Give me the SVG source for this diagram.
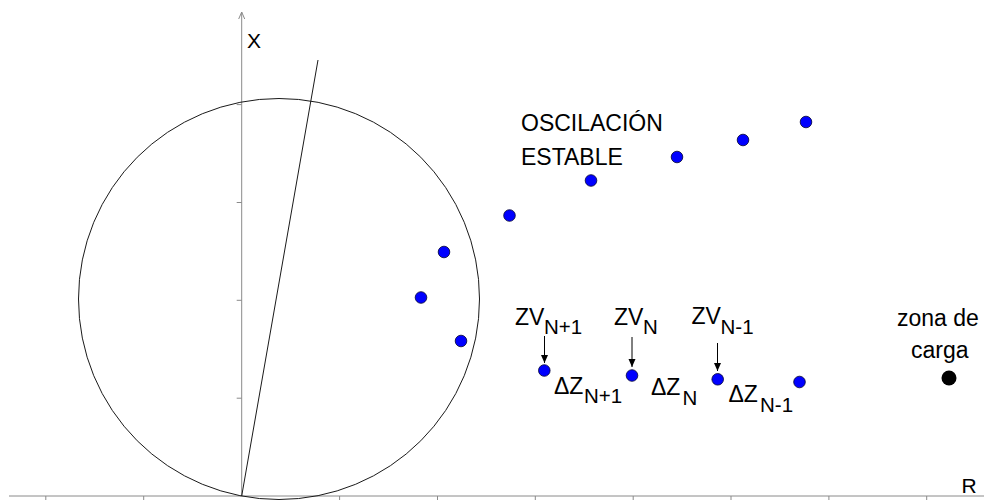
<svg xmlns="http://www.w3.org/2000/svg" width="984" height="501" viewBox="0 0 984 501">
<defs>
<style>
.axis{stroke:#8a8a8a;stroke-width:1;fill:none}
.geo{stroke:#1a1a1a;stroke-width:1;fill:none}
.pt{fill:#0000ff;stroke:#000033;stroke-width:0.8}
.lbl{font-family:"Liberation Sans",Arial,sans-serif;font-size:23px;fill:#000}
.sub{font-size:20.5px}
.conn{stroke:#000;stroke-width:1;fill:none}
</style>
<marker id="ah" viewBox="0 0 8 10" refX="8" refY="5" markerWidth="8" markerHeight="10" markerUnits="userSpaceOnUse" orient="auto">
<path d="M0,1.5 L8,5 L0,8.5 Z" fill="#000"/>
</marker>
</defs>
<rect width="984" height="501" fill="#fff"/>
<g id="axes">
<line class="axis" x1="9" y1="496" x2="984" y2="496"/>
<line class="axis" x1="241.7" y1="496" x2="241.7" y2="12"/>
<path class="axis" d="M238.7,19 L241.7,12 L244.7,19"/>
<path class="axis" d="M45.8,496v4M143.7,496v4M339.6,496v4M437.5,496v4M535.3,496v4M633.2,496v4M731,496v4M828.9,496v4M926.7,496v4"/>
<path class="axis" d="M236.7,398.2h5M236.7,300.3h5M236.7,202.5h5M236.7,104.6h5"/>
<text class="lbl" x="247" y="48" style="font-size:21px">X</text>
<text class="lbl" x="961.5" y="493" style="font-size:21px">R</text>
</g>
<g id="circle">
<circle class="geo" cx="279" cy="299" r="200.5"/>
<line class="geo" x1="241.7" y1="496" x2="318" y2="60"/>
</g>
<g id="oscilacion">
<text class="lbl" x="521" y="131">OSCILACIÓN</text>
<text class="lbl" x="521" y="165">ESTABLE</text>
<circle class="pt" cx="806" cy="122" r="5.8"/>
<circle class="pt" cx="743" cy="140" r="5.8"/>
<circle class="pt" cx="677" cy="157" r="5.8"/>
<circle class="pt" cx="591" cy="180.5" r="5.8"/>
<circle class="pt" cx="509.5" cy="215.5" r="5.8"/>
<circle class="pt" cx="444" cy="252" r="5.8"/>
<circle class="pt" cx="421" cy="297.5" r="5.8"/>
<circle class="pt" cx="461" cy="341" r="5.8"/>
</g>
<g id="zvN1">
<text class="lbl" x="515" y="325">ZV<tspan class="sub" x="544" y="333.5">N+1</tspan></text>
<circle class="pt" cx="544.3" cy="370.5" r="5.8"/>
</g>
<g id="zvN">
<text class="lbl" x="614" y="325">ZV<tspan class="sub" x="643" y="333.5">N</tspan></text>
<circle class="pt" cx="632" cy="375.5" r="5.8"/>
</g>
<g id="zvN-1">
<text class="lbl" x="691.5" y="324">ZV<tspan class="sub" x="720.5" y="333.5">N-1</tspan></text>
<circle class="pt" cx="717.7" cy="379.3" r="5.8"/>
</g>
<g id="pN-2">
<circle class="pt" cx="799.5" cy="382" r="5.8"/>
</g>
<g id="dzN1">
<text class="lbl" x="554" y="393.5">ΔZ<tspan class="sub" x="584" y="403">N+1</tspan></text>
</g>
<g id="dzN">
<text class="lbl" x="651" y="395">ΔZ<tspan class="sub" x="682.5" y="404.5">N</tspan></text>
</g>
<g id="dzN-1">
<text class="lbl" x="728.5" y="402">ΔZ<tspan class="sub" x="760" y="411.5">N-1</tspan></text>
</g>
<g id="zona">
<text class="lbl" x="897" y="326">zona de</text>
<text class="lbl" x="911" y="358">carga</text>
<circle cx="949" cy="378" r="7.5" fill="#000"/>
</g>
<g id="connectors">
<line class="conn" x1="544.5" y1="336" x2="544.5" y2="363" marker-end="url(#ah)"/>
<line class="conn" x1="632" y1="337" x2="632" y2="367" marker-end="url(#ah)"/>
<line class="conn" x1="717.5" y1="343" x2="717.5" y2="371" marker-end="url(#ah)"/>
</g>
</svg>
